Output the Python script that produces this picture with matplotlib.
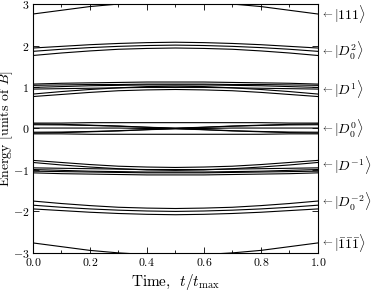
import matplotlib
matplotlib.use("Agg")
import matplotlib.pyplot as plt
import matplotlib.transforms as mtransforms

plt.rcParams["mathtext.fontset"] = "cm"
plt.rcParams["font.family"] = "serif"
plt.rcParams["font.serif"] = ["cmr10", "DejaVu Serif"]
plt.rcParams["axes.unicode_minus"] = False

# time samples, t / t_max
t = [0.0, 0.1, 0.2, 0.3, 0.4, 0.5, 0.6, 0.7, 0.8, 0.9, 1.0]

# energy levels (units of B), one list per eigenvalue
level_3 = [
    [2.76, 2.85, 2.94, 3.00, 3.04, 3.06, 3.04, 3.00, 2.94, 2.85, 2.76],
]
level_2 = [
    [1.94, 1.98, 2.02, 2.05, 2.07, 2.08, 2.07, 2.05, 2.02, 1.98, 1.94],
    [1.86, 1.91, 1.95, 1.98, 2.00, 2.01, 2.00, 1.98, 1.95, 1.91, 1.86],
    [1.76, 1.82, 1.87, 1.91, 1.93, 1.94, 1.93, 1.91, 1.87, 1.82, 1.76],
]
level_1 = [
    [1.07, 1.09, 1.10, 1.11, 1.12, 1.12, 1.12, 1.11, 1.10, 1.09, 1.07],
    [1.04, 1.05, 1.06, 1.06, 1.07, 1.07, 1.07, 1.06, 1.06, 1.05, 1.04],
    [0.99, 1.01, 1.03, 1.04, 1.05, 1.05, 1.05, 1.04, 1.03, 1.01, 0.99],
    [0.95, 0.96, 0.97, 0.98, 0.99, 0.99, 0.99, 0.98, 0.97, 0.96, 0.95],
    [0.83, 0.89, 0.94, 0.98, 1.01, 1.02, 1.01, 0.98, 0.94, 0.89, 0.83],
    [0.77, 0.82, 0.87, 0.91, 0.93, 0.94, 0.93, 0.91, 0.87, 0.82, 0.77],
]
level_0 = [
    [0.13, 0.13, 0.14, 0.14, 0.14, 0.14, 0.14, 0.14, 0.14, 0.13, 0.13],
    [0.11, 0.10, 0.08, 0.06, 0.03, 0.01, 0.03, 0.06, 0.08, 0.10, 0.11],
    [0.09, 0.086, 0.073, 0.053, 0.028, 0.0, -0.028, -0.053, -0.073, -0.086, -0.09],
    [0.01, 0.01, 0.01, 0.01, 0.0, 0.0, 0.0, 0.01, 0.01, 0.01, 0.01],
    [-0.09, -0.086, -0.073, -0.053, -0.028, 0.0, 0.028, 0.053, 0.073, 0.086, 0.09],
    [-0.11, -0.10, -0.08, -0.06, -0.03, -0.01, -0.03, -0.06, -0.08, -0.10, -0.11],
    [-0.13, -0.13, -0.14, -0.14, -0.14, -0.14, -0.14, -0.14, -0.14, -0.13, -0.13],
]
level_m1 = [
    [-0.77, -0.82, -0.87, -0.91, -0.93, -0.94, -0.93, -0.91, -0.87, -0.82, -0.77],
    [-0.82, -0.88, -0.93, -0.97, -1.00, -1.01, -1.00, -0.97, -0.93, -0.88, -0.82],
    [-0.95, -0.96, -0.97, -0.98, -0.99, -0.99, -0.99, -0.98, -0.97, -0.96, -0.95],
    [-0.99, -1.01, -1.03, -1.04, -1.05, -1.05, -1.05, -1.04, -1.03, -1.01, -0.99],
    [-1.03, -1.04, -1.05, -1.06, -1.07, -1.07, -1.07, -1.06, -1.05, -1.04, -1.03],
    [-1.07, -1.09, -1.10, -1.11, -1.12, -1.12, -1.12, -1.11, -1.10, -1.09, -1.07],
]
level_m2 = [
    [-1.75, -1.81, -1.86, -1.90, -1.92, -1.93, -1.92, -1.90, -1.86, -1.81, -1.75],
    [-1.85, -1.90, -1.94, -1.97, -1.99, -2.00, -1.99, -1.97, -1.94, -1.90, -1.85],
    [-1.94, -1.98, -2.02, -2.05, -2.07, -2.08, -2.07, -2.05, -2.02, -1.98, -1.94],
]
level_m3 = [
    [-2.76, -2.85, -2.94, -3.00, -3.04, -3.06, -3.04, -3.00, -2.94, -2.85, -2.76],
]

state_labels = [r"$|111\rangle$", r"$|D_0^2\rangle$", r"$|D^1\rangle$",
                r"$|D_0^0\rangle$", r"$|D^{-1}\rangle$", r"$|D_0^{-2}\rangle$",
                r"$|\bar{1}\bar{1}\bar{1}\rangle$"]
state_y = [2.76, 1.86, 0.95, 0.0, -0.88, -1.77, -2.76]

xticks = [0.0, 0.2, 0.4, 0.6, 0.8, 1.0]
yticks = [-3, -2, -1, 0, 1, 2, 3]

fig = plt.figure(figsize=(3.74, 2.90), dpi=100)
ax = fig.add_axes([0.088, 0.128, 0.762, 0.858])

for band in [level_3, level_2, level_1, level_0, level_m1, level_m2, level_m3]:
    for e in band:
        ax.plot(t, e, color="k", lw=0.8)

ax.set_xlim(0, 1)
ax.set_ylim(-3, 3)
ax.set_xticks(xticks)
ax.set_xticklabels([r"$%.1f$" % v for v in xticks])
ax.set_xticks([0.1, 0.3, 0.5, 0.7, 0.9], minor=True)
ax.set_yticks(yticks)
ax.set_yticklabels([r"$%d$" % v for v in yticks])
ax.tick_params(which="both", direction="in", top=True, right=True, labelsize=8.5)
ax.tick_params(which="major", length=4, width=0.6, pad=2.5)
ax.tick_params(which="minor", length=2, width=0.6)
for s in ax.spines.values():
    s.set_linewidth(0.8)

ax.set_xlabel(r"Time, $\ t/t_{\max}$", fontsize=11)
ax.xaxis.set_label_coords(0.5, -0.075)
ax.set_ylabel(r"Energy $[$units of $B]$", fontsize=10)
ax.yaxis.set_label_coords(-0.062, 0.5)

trans = mtransforms.blended_transform_factory(ax.transAxes, ax.transData)
for lab, y in zip(state_labels, state_y):
    ax.text(1.01, y, r"$\leftarrow$", transform=trans, va="center",
            ha="left", fontsize=7, clip_on=False)
    ax.text(1.055, y, lab, transform=trans, va="center",
            ha="left", fontsize=10, clip_on=False)

fig.savefig("out.png", dpi=100)
